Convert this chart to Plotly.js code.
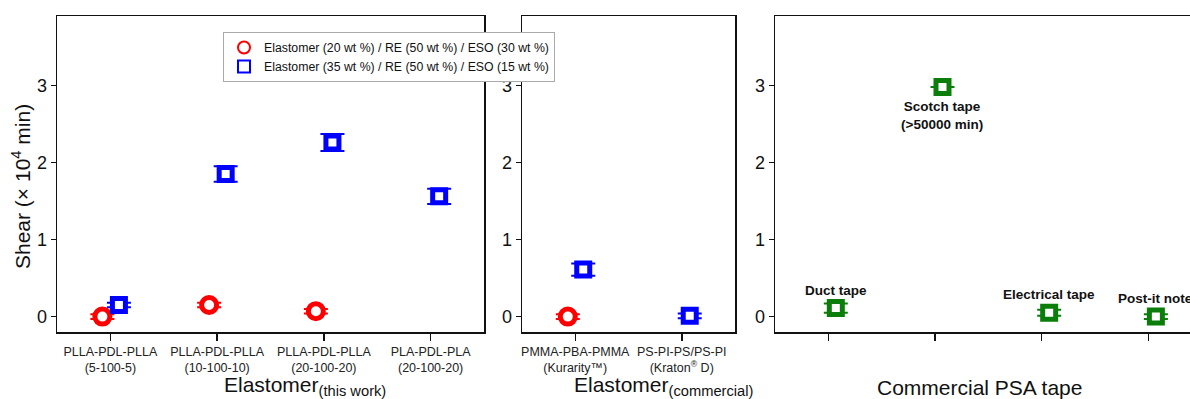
<!DOCTYPE html>
<html>
<head>
<meta charset="utf-8">
<script src="https://cdn.plot.ly/plotly-3.0.1.min.js"></script>
<style>html,body{margin:0;padding:0;background:#fff;}#chart{width:1190px;height:399px;}</style>
</head>
<body>
<div id="chart"></div>
<script>
// ---- data ----
const thisWorkLabels = ['PLLA-PDL-PLLA<br>(5-100-5)', 'PLLA-PDL-PLLA<br>(10-100-10)', 'PLLA-PDL-PLLA<br>(20-100-20)', 'PLA-PDL-PLA<br>(20-100-20)'];
const thisWorkRed = [0, 0.15, 0.07, null];
const thisWorkRedErr = [0.03, 0.03, 0.03, null];
const thisWorkBlue = [0.15, 1.85, 2.26, 1.56];
const thisWorkBlueErr = [0.03, 0.1, 0.11, 0.1];

const commercialLabels = ['PMMA-PBA-PMMA<br>(Kurarity™)', 'PS-PI-PS/PS-PI<br>(Kraton<sup>®</sup> D)'];
const commercialRed = [0, null];
const commercialRedErr = [0.03, null];
const commercialBlue = [0.61, 0.01];
const commercialBlueErr = [0.08, 0.03];

const tapeLabels = ['Duct tape', 'Scotch tape<br>(>50000 min)', 'Electrical tape', 'Post-it note'];
const tapeValues = [0.11, 2.98, 0.05, 0];
const tapeErr = [0.06, 0, 0.04, 0.03];

const legendNames = ['Elastomer (20 wt %) / RE (50 wt %) / ESO (30 wt %)', 'Elastomer (35 wt %) / RE (50 wt %) / ESO (15 wt %)'];
const yTickVals = [0, 1, 2, 3];

// ---- styling ----
const FONT = 'Liberation Sans, Arial, sans-serif';
const RED = '#ff0000', BLUE = '#0000ff', GREEN = '#0a7d0a';
const idx = a => a.map((_, i) => i);
const shift = (a, d) => a.map((_, i) => i + d);

function mk(x, y, err, color, symbol, xa, ya, name, show) {
  return {
    type: 'scatter', mode: 'markers', x: x, y: y, xaxis: xa, yaxis: ya,
    name: name, showlegend: show, cliponaxis: false,
    marker: {symbol: symbol, size: symbol === 'circle' ? 15 : 13, color: 'white', line: {color: color, width: 5}},
    error_y: {type: 'data', array: err, visible: true, color: color, thickness: 2, width: 12}
  };
}

const traces = [
  mk(shift(thisWorkRed, -0.075), thisWorkRed, thisWorkRedErr, RED, 'circle', 'x', 'y', legendNames[0], true),
  mk(shift(thisWorkBlue, 0.08), thisWorkBlue, thisWorkBlueErr, BLUE, 'square', 'x', 'y', legendNames[1], true),
  mk(shift(commercialRed, -0.07), commercialRed, commercialRedErr, RED, 'circle', 'x2', 'y2', legendNames[0], false),
  mk(shift(commercialBlue, 0.075), commercialBlue, commercialBlueErr, BLUE, 'square', 'x2', 'y2', legendNames[1], false),
  mk(shift(tapeValues, 0.07), tapeValues, tapeErr, GREEN, 'square', 'x3', 'y3', 'tape', false)
];

const W = 1190, H = 399;
const yDom = [(H - 332) / H, (H - 16) / H];
const baseX = {
  showline: true, linecolor: '#111', linewidth: 1.5, mirror: true,
  ticks: 'outside', ticklen: 7, tickwidth: 1.5, tickcolor: '#111',
  showgrid: false, zeroline: false, tickfont: {family: FONT, size: 12.5, color: '#222'}
};
const baseY = {
  showline: true, linecolor: '#111', linewidth: 1.5, mirror: true,
  ticks: 'outside', ticklen: 5, tickwidth: 1.5, tickcolor: '#111',
  showgrid: false, zeroline: false, range: [-0.2, 3.9], domain: yDom,
  tickvals: yTickVals, tickfont: {family: FONT, size: 18, color: '#111'}
};

const annotations = [
  {xref: 'paper', yref: 'paper', x: 21 / W, y: 1 - 187 / H, text: 'Shear (× 10<sup>4</sup> min)', textangle: -90, showarrow: false,
   font: {family: FONT, size: 21, color: '#111'}, xanchor: 'center', yanchor: 'middle'},
  {xref: 'paper', yref: 'paper', x: 222 / W, y: 1 - 386 / H, text: 'Elastomer<sub>(this work)</sub>', showarrow: false,
   font: {family: FONT, size: 21, color: '#111'}, xanchor: 'left', yanchor: 'middle'},
  {xref: 'paper', yref: 'paper', x: 572 / W, y: 1 - 386 / H, text: 'Elastomer<sub>(commercial)</sub>', showarrow: false,
   font: {family: FONT, size: 21, color: '#111'}, xanchor: 'left', yanchor: 'middle'},
  {xref: 'paper', yref: 'paper', x: 979 / W, y: 1 - 387 / H, text: 'Commercial PSA tape', showarrow: false,
   font: {family: FONT, size: 21, color: '#111'}, xanchor: 'center', yanchor: 'middle'}
];
tapeLabels.forEach((t, i) => {
  const below = tapeValues[i] > 1;
  annotations.push({
    xref: 'x3', yref: 'y3', x: i + 0.07, y: tapeValues[i], text: '<b>' + t + '</b>', showarrow: false,
    font: {family: FONT, size: 13.5, color: '#111'}, xanchor: 'center', yanchor: 'middle',
    yshift: below ? -29 : 18
  });
});

const layout = {
  width: W, height: H, margin: {l: 0, r: 0, t: 0, b: 0},
  paper_bgcolor: 'white', plot_bgcolor: 'white',
  font: {family: FONT, color: '#111'},
  showlegend: true,
  legend: {x: 223 / W, y: 1 - 32 / H, xanchor: 'left', yanchor: 'top', bgcolor: 'white',
           bordercolor: '#aaa', borderwidth: 1, font: {family: FONT, size: 12.3, color: '#111'},
           tracegroupgap: 0, itemsizing: 'constant', itemwidth: 30},
  xaxis: Object.assign({}, baseX, {domain: [57 / W, 484 / W], range: [-0.5, 3.5], tickvals: idx(thisWorkLabels), ticktext: thisWorkLabels, anchor: 'y'}),
  yaxis: Object.assign({}, baseY, {anchor: 'x'}),
  xaxis2: Object.assign({}, baseX, {domain: [522 / W, 735 / W], range: [-0.5, 1.5], tickvals: idx(commercialLabels), ticktext: commercialLabels, anchor: 'y2'}),
  yaxis2: Object.assign({}, baseY, {anchor: 'x2'}),
  xaxis3: Object.assign({}, baseX, {domain: [775 / W, 1], range: [-0.5, 3.39], tickvals: idx(tapeLabels), showticklabels: false, anchor: 'y3'}),
  yaxis3: Object.assign({}, baseY, {anchor: 'x3', mirror: false}),
  annotations: annotations
};

Plotly.newPlot('chart', traces, layout, {displayModeBar: false, staticPlot: true});
</script>
</body>
</html>
